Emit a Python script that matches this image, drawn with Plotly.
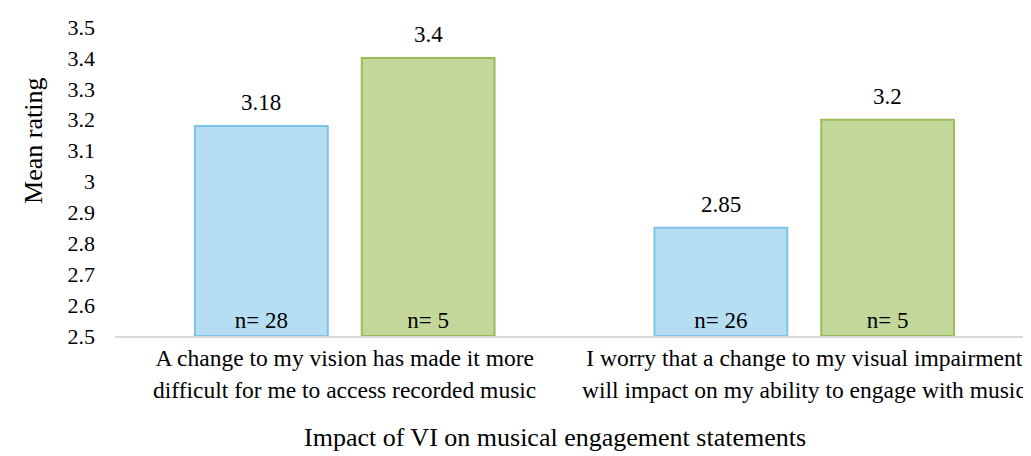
import plotly.graph_objects as go

# Datos
categorias_l1 = [
    "A change to my vision has made it more",
    "I worry that a change to my visual impairment",
]
categorias_l2 = [
    "difficult for me to access recorded music",
    "will impact on my ability to engage with music",
]
posiciones = [0, 1]
media_azul = [3.18, 2.85]
n_azul = [28, 26]
media_verde = [3.4, 3.2]
n_verde = [5, 5]
ticks_y = [2.5, 2.6, 2.7, 2.8, 2.9, 3.0, 3.1, 3.2, 3.3, 3.4, 3.5]

fuente = "Liberation Serif"
ancho = 0.289
series = [
    # (medias, n, offset, relleno, borde)
    (media_azul, n_azul, -0.326, "#B5DEF3", "#7DC3EB"),
    (media_verde, n_verde, 0.037, "#C4D79B", "#9BBB59"),
]

fig = go.Figure()
anotaciones = []
for medias, ns, off, relleno, borde in series:
    fig.add_trace(go.Bar(
        x=posiciones,
        y=[m - 2.5 for m in medias],
        base=2.5,
        width=ancho,
        offset=off,
        marker=dict(color=relleno, line=dict(color=borde, width=2)),
        text=["n= " + str(n) for n in ns],
        textposition="inside",
        insidetextanchor="start",
        textangle=0,
        textfont=dict(family=fuente, size=23, color="black"),
        hoverinfo="skip",
    ))
    # etiqueta del valor encima de cada barra
    for p, m in zip(posiciones, medias):
        anotaciones.append(dict(
            x=p + off + ancho / 2, y=m, xref="x", yref="y",
            text=str(m), showarrow=False, yanchor="bottom", yshift=9,
            font=dict(family=fuente, size=23, color="black"),
        ))

# segunda línea de las etiquetas de categoría (interlineado más estrecho)
for p, txt in zip(posiciones, categorias_l2):
    anotaciones.append(dict(
        x=p, y=0, xref="x", yref="paper", text=txt, showarrow=False,
        xanchor="center", yanchor="top", yshift=-39,
        font=dict(family=fuente, size=23.5, color="black"),
    ))

anotaciones.append(dict(
    text="Mean rating", textangle=-90, showarrow=False,
    xref="paper", yref="paper", x=-0.0893, y=0.631,
    xanchor="center", yanchor="middle",
    font=dict(family=fuente, size=26, color="black"),
))
anotaciones.append(dict(
    text="Impact of VI on musical engagement statements", showarrow=False,
    xref="paper", yref="paper", x=0.479, y=-0.33,
    xanchor="center", yanchor="middle",
    font=dict(family=fuente, size=26, color="black"),
))

fig.update_layout(
    width=1031, height=456,
    margin=dict(l=107, r=5, t=19, b=128),
    paper_bgcolor="white", plot_bgcolor="white",
    barmode="overlay",
    showlegend=False,
    font=dict(family=fuente, size=22, color="black"),
    annotations=anotaciones,
)
fig.update_xaxes(
    range=[-0.5, 1.5], tickvals=posiciones, ticktext=categorias_l1,
    showgrid=False, zeroline=False, showline=True, linecolor="#D9D9D9", linewidth=2,
    ticks="", ticklabelstandoff=0,
    tickfont=dict(family=fuente, size=23.5, color="black"),
)
fig.update_yaxes(
    range=[2.5, 3.5], tickvals=ticks_y, showgrid=False, zeroline=False, showline=False,
    ticks="", ticklabelstandoff=19,
    tickfont=dict(family=fuente, size=22, color="black"),
)

fig.write_html("out.html")
